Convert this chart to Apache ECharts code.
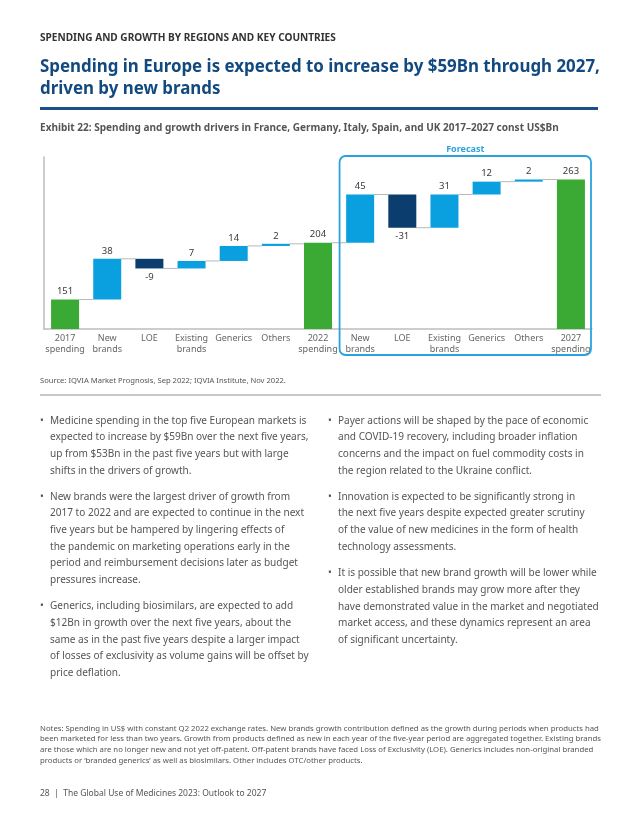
<!DOCTYPE html>
<html><head><meta charset="utf-8">
<script src="https://cdn.jsdelivr.net/npm/echarts@6/dist/echarts.min.js"></script>
<style>
html,body{margin:0;padding:0;background:#fff;}
body{width:638px;height:826px;position:relative;overflow:hidden;font-family:"Noto Sans","Open Sans",sans-serif;}
#chart{position:absolute;left:0;top:0;width:638px;height:826px;}
.t{position:absolute;white-space:nowrap;}
.para{position:absolute;white-space:nowrap;font-size:10.05px;line-height:16.7px;color:#555;}
.para .b{position:absolute;left:-10px;top:0;}
</style></head><body>
<div id="chart"></div>
<div class="t" style="left:40px;top:30px;font-size:10.1px;font-weight:700;color:#333;line-height:14px">SPENDING AND GROWTH BY REGIONS AND KEY COUNTRIES</div>
<div class="t" style="left:40px;top:55px;font-size:16.9px;font-weight:700;color:#124a80;line-height:22px">Spending in Europe is expected to increase by $59Bn through 2027,<br>driven by new brands</div>
<div style="position:absolute;left:40px;top:107px;width:558px;height:3px;background:#1b4f8a"></div>
<div class="t" style="left:40px;top:120px;font-size:10.05px;font-weight:700;color:#555;line-height:14px">Exhibit 22: Spending and growth drivers in France, Germany, Italy, Spain, and UK 2017–2027 const US$Bn</div>
<div class="t" style="left:40px;top:374px;font-size:7.6px;color:#555;line-height:12px">Source: IQVIA Market Prognosis, Sep 2022; IQVIA Institute, Nov 2022.</div>
<div style="position:absolute;left:40px;top:394px;width:561px;height:2px;background:#c8c8c8"></div>

<div class="para" style="left:50px;top:411.6px"><span class="b">•</span>Medicine spending in the top five European markets is<br>expected to increase by $59Bn over the next five years,<br>up from $53Bn in the past five years but with large<br>shifts in the drivers of growth.</div>
<div class="para" style="left:50px;top:487.6px"><span class="b">•</span>New brands were the largest driver of growth from<br>2017 to 2022 and are expected to continue in the next<br>five years but be hampered by lingering effects of<br>the pandemic on marketing operations early in the<br>period and reimbursement decisions later as budget<br>pressures increase.</div>
<div class="para" style="left:50px;top:597.3px"><span class="b">•</span>Generics, including biosimilars, are expected to add<br>$12Bn in growth over the next five years, about the<br>same as in the past five years despite a larger impact<br>of losses of exclusivity as volume gains will be offset by<br>price deflation.</div>

<div class="para" style="left:338px;top:411.6px"><span class="b">•</span>Payer actions will be shaped by the pace of economic<br>and COVID-19 recovery, including broader inflation<br>concerns and the impact on fuel commodity costs in<br>the region related to the Ukraine conflict.</div>
<div class="para" style="left:338px;top:487.6px"><span class="b">•</span>Innovation is expected to be significantly strong in<br>the next five years despite expected greater scrutiny<br>of the value of new medicines in the form of health<br>technology assessments.</div>
<div class="para" style="left:338px;top:564.3px"><span class="b">•</span>It is possible that new brand growth will be lower while<br>older established brands may grow more after they<br>have demonstrated value in the market and negotiated<br>market access, and these dynamics represent an area<br>of significant uncertainty.</div>

<div class="t" style="left:40px;top:722.5px;font-size:7.75px;color:#555;line-height:10.7px">Notes: Spending in US$ with constant Q2 2022 exchange rates. New brands growth contribution defined as the growth during periods when products had<br>been marketed for less than two years. Growth from products defined as new in each year of the five-year period are aggregated together. Existing brands<br>are those which are no longer new and not yet off-patent. Off-patent brands have faced Loss of Exclusivity (LOE). Generics includes non-original branded<br>products or ‘branded generics’ as well as biosimilars. Other includes OTC/other products.</div>
<div class="t" style="left:40px;top:787px;font-size:8.5px;color:#555;line-height:12px">28&nbsp;&nbsp;|&nbsp;&nbsp;The Global Use of Medicines 2023: Outlook to 2027</div>

<script>
const categories = ['2017\nspending','New\nbrands','LOE','Existing\nbrands','Generics','Others','2022\nspending','New\nbrands','LOE','Existing\nbrands','Generics','Others','2027\nspending'];
const values = [151, 38, -9, 7, 14, 2, 204, 45, -31, 31, 12, 2, 263];
const isTotal = [true, false, false, false, false, false, true, false, false, false, false, false, true];
const forecastStart = 7;
const forecastLabel = 'Forecast';

(function () {
  const GREEN = '#3aaa35', LIGHT = '#0aa0e0', DARK = '#0b3d6e';
  const base = [], span = [], ends = [];
  let running = 0;
  values.forEach((v, i) => {
    if (isTotal[i]) { base.push(0); span.push(v); running = v; }
    else if (v >= 0) { base.push(running); span.push(v); running += v; }
    else { base.push(running + v); span.push(-v); running += v; }
    ends.push(running);
  });

  const chart = echarts.init(document.getElementById('chart'), null, {renderer: 'canvas'});
  const Y_MIN = 123.5, Y_MAX = 284;
  const BAR_W = 28;

  const visibleData = values.map((v, i) => ({
    value: span[i],
    itemStyle: {color: isTotal[i] ? GREEN : (v < 0 ? DARK : LIGHT)},
    label: {
      show: true,
      position: v < 0 ? 'bottom' : 'top',
      distance: v < 0 ? 4 : 3,
      formatter: String(v)
    }
  }));

  chart.setOption({
    animation: false,
    grid: {left: 44, top: 157, width: 548, height: 172, containLabel: false},
    xAxis: {
      type: 'category', data: categories,
      axisLine: {show: true, onZero: false, lineStyle: {color: '#bdbdbd', width: 1.5}},
      axisTick: {show: false},
      axisLabel: {interval: 0, fontSize: 9, color: '#666', lineHeight: 11, margin: 4, fontFamily: 'Noto Sans'}
    },
    yAxis: {
      type: 'value', min: Y_MIN, max: Y_MAX,
      axisLine: {show: true, lineStyle: {color: '#bdbdbd', width: 1.5}},
      axisTick: {show: false}, axisLabel: {show: false}, splitLine: {show: false}
    },
    series: [
      {type: 'bar', stack: 'w', data: base, barWidth: BAR_W, itemStyle: {color: 'transparent'}, silent: true},
      {type: 'bar', stack: 'w', data: visibleData, barWidth: BAR_W,
       label: {fontSize: 9.5, color: '#3a3a3a', fontFamily: 'Noto Sans'}},
      {type: 'custom', z: 1,
       data: ends.slice(0, ends.length - 1).map((e, i) => [i, e]),
       renderItem: function (params, api) {
         const p = api.coord([api.value(0), api.value(1)]);
         const bw = api.size([1, 0])[0];
         return {type: 'line', shape: {x1: p[0] + BAR_W / 2, y1: p[1], x2: p[0] + bw - BAR_W / 2, y2: p[1]},
                 style: {stroke: '#b8b8b8', lineWidth: 1}};
       }}
    ]
  });

  // forecast frame
  const c6 = chart.convertToPixel({xAxisIndex: 0}, forecastStart - 1);
  const c7 = chart.convertToPixel({xAxisIndex: 0}, forecastStart);
  const cLast = chart.convertToPixel({xAxisIndex: 0}, categories.length - 1);
  const step = c7 - c6;
  const boxL = (c6 + c7) / 2 + 0.5;
  const boxR = cLast + step / 2 - 1;
  const boxT = chart.convertToPixel({yAxisIndex: 0}, Y_MAX) - 1;
  const boxB = chart.convertToPixel({yAxisIndex: 0}, Y_MIN) + 26;
  chart.setOption({
    graphic: [
      {type: 'rect', shape: {x: boxL, y: boxT, width: boxR - boxL, height: boxB - boxT, r: 6},
       style: {fill: 'none', stroke: '#2aa3dc', lineWidth: 1.8}, z: 10},
      {type: 'text', x: (boxL + boxR) / 2, y: boxT - 7,
       style: {text: forecastLabel, fill: '#2aa3dc', font: 'bold 9px "Noto Sans"', align: 'center', verticalAlign: 'middle'}, z: 10}
    ]
  });
})();
</script>
</body></html>
